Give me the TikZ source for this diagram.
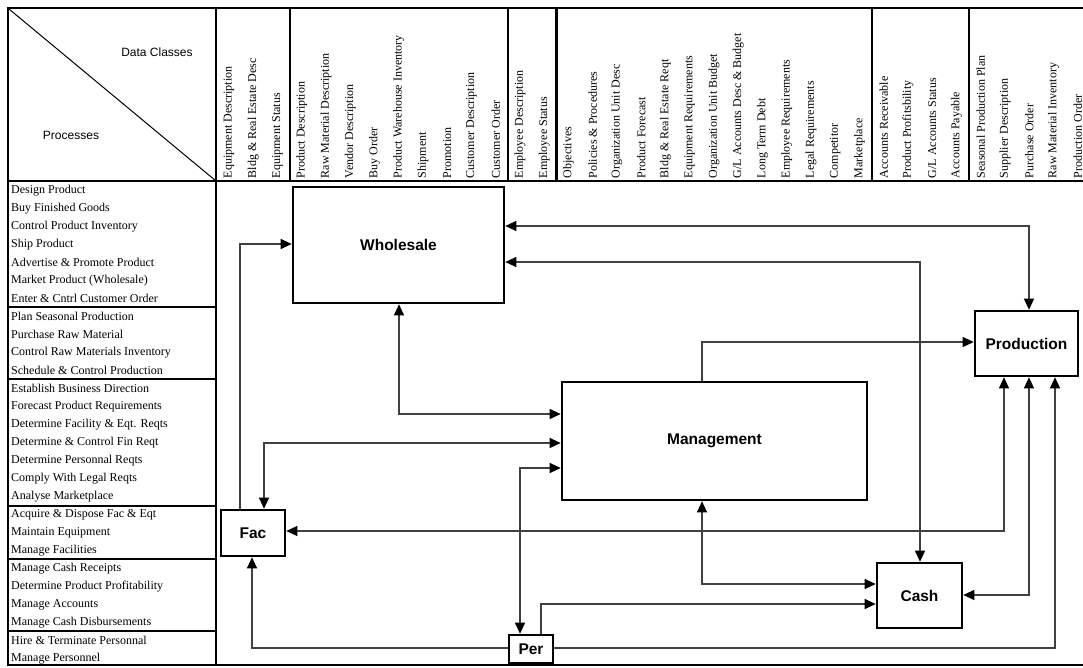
\documentclass[tikz,border=0pt]{standalone}
\usepackage{fontspec}
\setmainfont{Liberation Serif}
\newfontfamily\arialfont{Liberation Sans}
\usetikzlibrary{arrows.meta}
\begin{document}
\begin{tikzpicture}[x=1pt,y=-1pt,
  box/.style={draw, line width=2.6pt, fill=white, inner sep=0pt,
    font=\arialfont\bfseries\fontsize{15.5}{18}\selectfont},
  conn/.style={draw=black!75, line width=1.1pt},
  arr/.style={conn, -{Triangle[length=11pt,width=10pt,fill=black,color=black]}},
  darr/.style={conn, {Triangle[length=11pt,width=10pt,fill=black,color=black]}-{Triangle[length=11pt,width=10pt,fill=black,color=black]}},
  frame/.style={line width=2.6pt},
  sep/.style={line width=2.2pt},
  coltext/.style={rotate=90, anchor=west, inner sep=0pt, font=\fontsize{12}{14}\selectfont},
  rowtext/.style={anchor=west, inner sep=0pt, font=\fontsize{12}{14}\selectfont},
  hdr/.style={font=\arialfont\fontsize{12}{14}\selectfont}
]
\useasboundingbox (0,0) rectangle (1083,667);
\fill[white] (0,0) rectangle (1083,667);

% frame and grid
\draw[frame] (1083,8) -- (8,8) -- (8,665) -- (1083,665);
\draw[frame] (8,181) -- (1083,181);
\draw[frame] (216,8) -- (216,665);
\foreach \sx in {289.6,507.9,556.4,871.6,968.6} \draw[sep] (\sx,8) -- (\sx,181);
\foreach \sy in {307,379,506,559,631} \draw[sep] (8,\sy) -- (216,\sy);
\draw[line width=1pt] (9,9) -- (216,181);
\node[hdr] (dc) at (157,52) {Data Classes};
\node[hdr] (pr) at (71,135) {Processes};

% column headers
\foreach \t [count=\i from 0] in {Equipment Description, Bldg \& Real Estate Desc, Equipment Status,
  Product Description, Raw Material Description, Vendor Description, Buy Order, Product Warehouse Inventory,
  Shipment, Promotion, Customer Description, Customer Order, Employee Description, Employee Status,
  Objectives, Policies \& Procedures, Organization Unit Desc, Product Forecast, Bldg \& Real Estate Reqt,
  Equipment Requirements, Organization Unit Budget, G/L Accounts Desc \& Budget, Long Term Debt,
  Employee Requirements, Legal Requirements, Competitor, Marketplace, Accounts Receivable,
  Product Profitsbility, G/L Accounts Status, Accounts Payable, Seasonal Production Plan,
  Supplier Description, Purchase Order, Raw Material Inventory, Production Order}
  \node[coltext] (c\i) at (229+24.25*\i,178.5) {\t};

% process rows
\foreach \t [count=\i from 0] in {Design Product, Buy Finished Goods, Control Product Inventory, Ship Product,
  Advertise \& Promote Product, Market Product (Wholesale), Enter \& Cntrl Customer Order,
  Plan Seasonal Production, Purchase Raw Material, Control Raw Materials Inventory, Schedule \& Control Production,
  Establish Business Direction, Forecast Product Requirements, Determine Facility \& Eqt. Reqts,
  Determine \& Control Fin  Reqt, Determine Personnal Reqts, Comply With Legal Reqts, Analyse Marketplace,
  Acquire \& Dispose Fac \& Eqt, Maintain Equipment, Manage Facilities,
  Manage Cash Receipts, Determine Product Profitability, Manage Accounts, Manage Cash Disbursements,
  Hire \& Terminate Personnal, Manage Personnel}
  \node[rowtext] (r\i) at (11,190.5+18*\i) {\t};

% boxes
\node[box, minimum width=211pt, minimum height=116pt] (W) at (398.5,245) {Wholesale};
\node[box, minimum width=305pt, minimum height=118pt] (M) at (714.5,441) {Management};
\node[box, minimum width=103pt, minimum height=65pt] (P) at (1026.5,343.5) {Production};
\node[box, minimum width=85pt, minimum height=65pt] (C) at (919.5,595.5) {Cash};
\node[box, minimum width=64pt, minimum height=46pt] (F) at (253,533) {Fac};
\node[box, minimum width=44pt, minimum height=28pt] (R) at (531,649) {Per};

% bend coordinates
\coordinate (k1) at (240,244);
\coordinate (k2) at (1029,226);
\coordinate (k3) at (920,262);
\coordinate (k4) at (399,414);
\coordinate (k5) at (702,342);
\coordinate (k6) at (264,443);
\coordinate (k7) at (520,468);
\coordinate (k8) at (1004,531);
\coordinate (k9) at (702,584);
\coordinate (k10) at (541,604);
\coordinate (k11) at (1029,595);
\coordinate (k12) at (1055,648);
\coordinate (k13) at (252,648);

% connectors
\draw[arr] (F.north -| k1) |- (W.west |- k1);
\draw[darr] (W.east |- k2) -| (P.north -| k2);
\draw[darr] (W.east |- k3) -| (C.north -| k3);
\draw[darr] (W.south -| k4) |- (M.west |- k4);
\draw[arr] (M.north -| k5) |- (P.west |- k5);
\draw[darr] (F.north -| k6) |- (M.west |- k6);
\draw[darr] (R.north -| k7) |- (M.west |- k7);
\draw[darr] (F.east |- k8) -| (P.south -| k8);
\draw[darr] (M.south -| k9) |- (C.west |- k9);
\draw[arr] (R.north -| k10) |- (C.west |- k10);
\draw[darr] (C.east |- k11) -| (P.south -| k11);
\draw[arr] (R.east |- k12) -| (P.south -| k12);
\draw[arr] (R.west |- k13) -| (F.south -| k13);
\end{tikzpicture}
\end{document}
